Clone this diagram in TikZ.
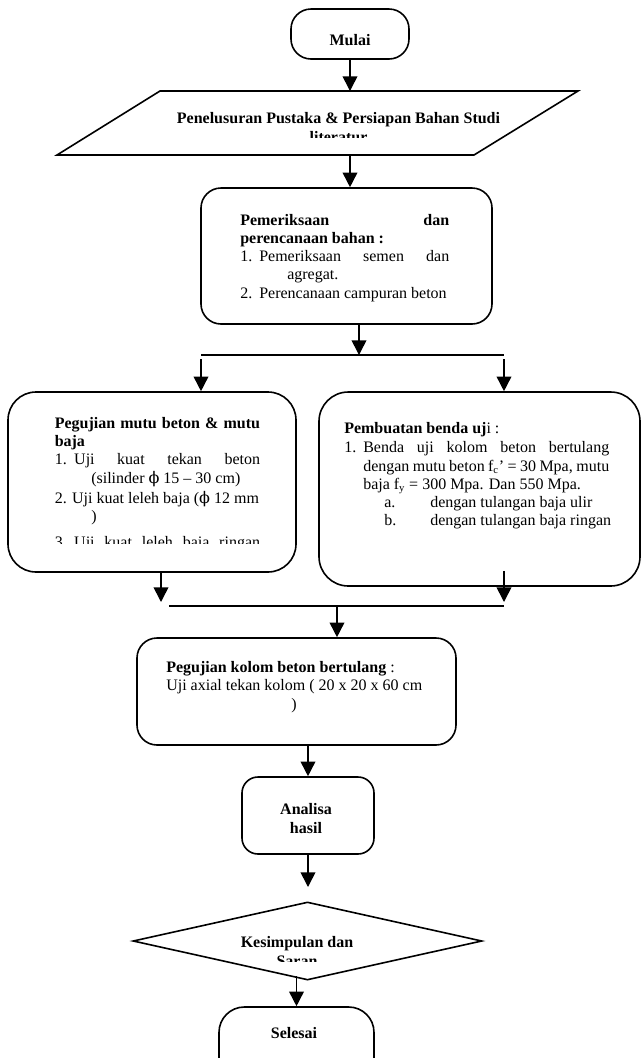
\documentclass[tikz,border=0pt]{standalone}
\usepackage{fontspec}
\setmainfont{Liberation Serif}
\newfontfamily\phifont{DejaVu Serif}
\usetikzlibrary{arrows.meta,shapes.geometric}
\begin{document}
\begin{tikzpicture}[x=0.75pt,y=-0.75pt,
  every node/.style={font=\fontsize{12pt}{14pt}\selectfont},
  box/.style={draw, line width=1.2pt, rounded corners=#1, inner sep=0pt},
  box/.default=15pt,
  txt/.style={anchor=base west, inner sep=0pt},
  btxt/.style={anchor=base west, inner sep=0pt, font=\fontsize{12pt}{14pt}\selectfont\bfseries},
  ctxt/.style={anchor=base, inner sep=0pt, font=\fontsize{12pt}{14pt}\selectfont\bfseries},
  arr/.style={line width=1.2pt, -{Triangle[length=11pt,width=11pt]}},
  ln/.style={line width=1.2pt}]
\clip (0,0) rectangle (641,1058);
\fill[white] (0,0) rectangle (641,1058);

% Mulai
\node[box=15pt, minimum width=88.5pt, minimum height=37.5pt] (mulai) at (350,34) {};
\node[ctxt] (mulaiT) at (350,45.5) {Mulai};

% Parallelogram
\coordinate (penTop) at (350,91);
\coordinate (penBot) at (350,155);
\draw[ln, line join=miter] (160,91) -- (578,91) -- (474,155) -- (57,155) -- cycle;
\node[ctxt] (penT1) at (338.5,123) {Penelusuran Pustaka \& Persiapan Bahan Studi};
\begin{scope}
\clip (0,0) rectangle (641,137);
\node[ctxt] (penT2) at (338.5,142) {literatur};
\end{scope}
\draw[arr] (mulai.south) -- (penTop);

% Pemeriksaan
\node[box=15pt, minimum width=218.25pt, minimum height=102pt] (pem) at (346.5,256) {};
\draw[arr] (penBot) -- (penBot |- pem.north);
\node[btxt] (pemT1) at (240,225) {\makebox[156.75pt][s]{Pemeriksaan dan}};
\node[btxt] (pemT2) at (240,243) {perencanaan bahan :};
\node[txt] (pemT3) at (240,261) {\makebox[14.25pt][l]{1.}\makebox[142.5pt][s]{Pemeriksaan semen dan}};
\node[txt] (pemT4) at (287,279) {agregat.};
\node[txt] (pemT5) at (240,298) {\makebox[14.25pt][l]{2.}Perencanaan campuran beton};

% first junction
\coordinate (j1) at (359,355);
\coordinate (j1L) at (201,355);
\coordinate (j1R) at (504,355);
\draw[arr] (pem.south -| j1) -- (j1);
\draw[ln] (j1L) -- (j1R);

% Left box
\node[box=21pt, minimum width=216pt, minimum height=135pt] (left) at (152,482) {};
\draw[arr] ([yshift=-3pt]j1L) -- (j1L |- left.north);
\node[btxt] (lT1) at (54.5,428) {\makebox[154pt][s]{Pegujian mutu beton \& mutu}};
\node[btxt] (lT2) at (54.5,446) {baja};
\node[txt] (lT3) at (54.5,464) {\makebox[14.6pt][l]{1.}\makebox[139.4pt][s]{Uji kuat tekan beton}};
\node[txt] (lT4) at (91,483) {(silinder {\phifont ϕ} 15 – 30 cm)};
\node[txt] (lT5) at (54.5,503) {\makebox[13pt][l]{2.}Uji kuat leleh baja ({\phifont ϕ} 12 mm};
\node[txt] (lT6) at (91,521) {)};
\begin{scope}
\clip (0,0) rectangle (641,543);
\node[txt] (lT7) at (54.5,547) {\makebox[14.6pt][l]{3.}\makebox[139.4pt][s]{Uji kuat leleh baja ringan}};
\end{scope}

% Right box
\node[box=22pt, minimum width=240.75pt, minimum height=145.5pt] (right) at (479.5,489) {};
\draw[arr] ([yshift=-3pt]j1R) -- (j1R |- right.north);
\node[txt] (rT1) at (344,433) {{\bfseries Pembuatan benda uj}i :};
\node[txt] (rT2) at (344,452) {\makebox[14.25pt][l]{1.}\makebox[184.5pt][s]{Benda uji kolom beton bertulang}};
\node[txt] (rT3) at (363,471) {\makebox[184.5pt][s]{dengan mutu beton f\textsubscript{c}’ = 30 Mpa, mutu}};
\node[txt] (rT4) at (363,489) {baja f\textsubscript{y} = 300 Mpa. Dan 550 Mpa.};
\node[txt] (rT5a) at (384,507) {a.};
\node[txt] (rT5b) at (430,507) {dengan tulangan baja ulir};
\node[txt] (rT6a) at (384,525) {b.};
\node[txt] (rT6b) at (430,525) {dengan tulangan baja ringan};

% second junction
\coordinate (j2) at (337,606);
\coordinate (j2L) at (169,606);
\coordinate (j2R) at (504,606);
\coordinate (j2a) at (161,602);
\coordinate (j2b) at (504,602);
\draw[arr] (left.south -| j2a) -- (j2a);
\draw[arr] ([yshift=12pt]right.south -| j2b) -- (j2b);
\draw[ln] (j2L) -- (j2R);

% Kolom box
\node[box=15pt, minimum width=239.25pt, minimum height=80.25pt] (kolom) at (296.5,691.5) {};
\draw[arr] (j2) -- (j2 |- kolom.north);
\node[txt] (kT1) at (166,672) {{\bfseries Pegujian kolom beton bertulang} :};
\node[txt] (kT2) at (166,690) {Uji axial tekan kolom ( 20 x 20 x 60 cm};
\node[txt] (kT3) at (291,709) {)};

% Analisa
\node[box=12pt, minimum width=99pt, minimum height=57.75pt] (analisa) at (308,815.5) {};
\draw[arr] (analisa.north |- kolom.south) -- (analisa.north);
\node[ctxt] (aT1) at (306,814) {Analisa};
\node[ctxt] (aT2) at (306,833) {hasil};

% Diamond
\coordinate (a5) at (308,887);
\draw[arr] (analisa.south) -- (a5);
\node[diamond, draw, line width=1.2pt, minimum width=261.75pt, minimum height=58.5pt, inner sep=0pt] (kes) at (307.5,941) {};
\node[ctxt] (kesT1) at (297,947) {Kesimpulan dan};
\begin{scope}
\clip (0,0) rectangle (641,961.5);
\node[ctxt] (kesT2) at (297,966) {Saran};
\end{scope}

% Selesai
\node[box=19pt, minimum width=116.25pt, minimum height=58.5pt] (selesai) at (296.5,1046) {};
\coordinate (kout) at (296.5,976);
\draw[arr] (kout) -- (selesai.north);
\node[ctxt] (selT) at (294,1038) {Selesai};
\end{tikzpicture}
\end{document}
